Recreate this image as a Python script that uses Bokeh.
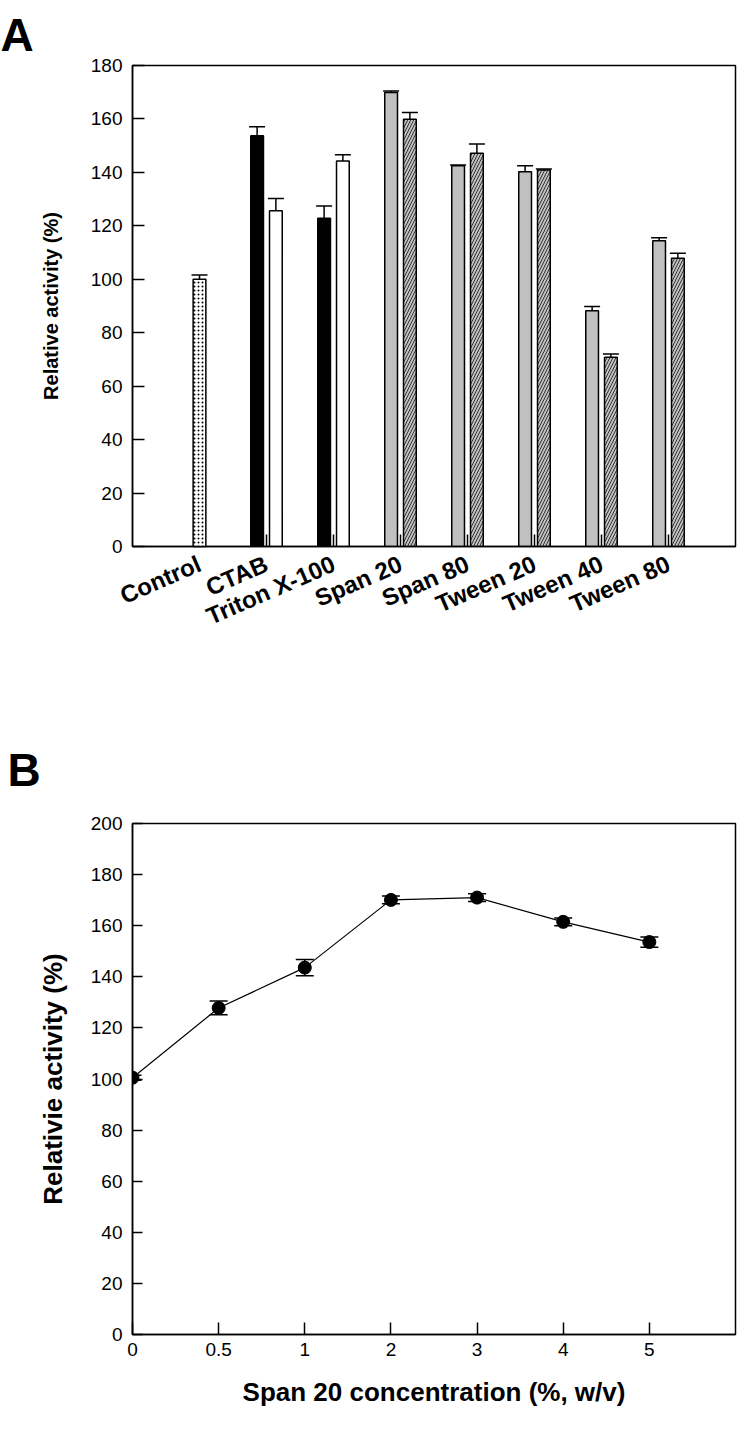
from bokeh.plotting import figure
from bokeh.models import FixedTicker, Range1d, Whisker, ColumnDataSource, TeeHead
from bokeh.layouts import column
from bokeh.embed import file_html
from bokeh.resources import INLINE

# ---------------- Panel A data ----------------
categories = ["Control", "CTAB", "Triton X-100", "Span 20", "Span 80",
              "Tween 20", "Tween 40", "Tween 80"]
control_value = [100.0]
control_err = [1.6]
first_values = [153.7, 122.8, 169.9, 142.5, 140.2, 88.2, 114.4]
first_err = [3.4, 4.6, 0.6, 0.3, 2.3, 1.6, 1.1]
second_values = [125.6, 144.3, 159.9, 147.2, 140.9, 70.8, 107.9]
second_err = [4.6, 2.3, 2.5, 3.4, 0.4, 1.2, 1.8]
a_yticks = [0, 20, 40, 60, 80, 100, 120, 140, 160, 180]

# ---------------- Panel B data ----------------
conc_labels = ["0", "0.5", "1", "2", "3", "4", "5"]
activity = [100.5, 127.8, 143.6, 170.1, 171.0, 161.5, 153.6]
activity_err = [1.0, 2.7, 3.2, 1.5, 1.5, 1.5, 2.0]
b_yticks = [0, 20, 40, 60, 80, 100, 120, 140, 160, 180, 200]

FONT = "Liberation Sans"


def style_title(p, text, left_border, standoff):
    p.title.text = text
    p.title.text_font = FONT
    p.title.text_font_style = "bold"
    p.title.text_font_size = "46px"
    p.title.text_color = "black"
    p.title.align = "left"
    p.title.offset = -left_border
    p.title.standoff = standoff


# ---------------- Panel A ----------------
pa = figure(width=742, height=690, output_backend="svg", toolbar_location=None,
            x_range=Range1d(0, len(categories) + 1), y_range=Range1d(0, 180),
            min_border_left=132, min_border_right=2, min_border_top=65,
            min_border_bottom=144)
pa.grid.visible = False
pa.outline_line_color = "black"
pa.outline_line_width = 1.5
style_title(pa, "A", 132, 10)

group_pos = list(range(1, len(categories) + 1))
pair_pos = group_pos[1:]
off = 0.14
bw = 0.19

ctrl_src = ColumnDataSource(dict(x=[group_pos[0]], top=control_value,
                                 upper=[v + e for v, e in zip(control_value, control_err)]))
ctrl = pa.vbar(x="x", top="top", bottom=0, width=bw, source=ctrl_src,
               fill_color="white", line_color="black", line_width=1.5,
               hatch_pattern="dot", hatch_scale=4, hatch_weight=1, hatch_color="black")
ctrl.level = "overlay"

n_ionic = 2
first_fill = ["black"] * n_ionic + ["#c0c0c0"] * (len(first_values) - n_ionic)
second_fill = ["white"] * n_ionic + ["#c0c0c0"] * (len(second_values) - n_ionic)
second_hatch = [" "] * n_ionic + ["/"] * (len(second_values) - n_ionic)

s1 = ColumnDataSource(dict(x=[g - off for g in pair_pos], top=first_values,
                           upper=[v + e for v, e in zip(first_values, first_err)],
                           fill=first_fill))
s2 = ColumnDataSource(dict(x=[g + off for g in pair_pos], top=second_values,
                           upper=[v + e for v, e in zip(second_values, second_err)],
                           fill=second_fill, hatch=second_hatch))
pa.vbar(x="x", top="top", bottom=0, width=bw, source=s1, fill_color="fill",
        line_color="black", line_width=1.5)
pa.vbar(x="x", top="top", bottom=0, width=bw, source=s2, fill_color="fill",
        line_color="black", line_width=1.5, hatch_pattern="hatch", hatch_scale=6,
        hatch_weight=0.9, hatch_color="#222222")

for src in (ctrl_src, s1, s2):
    w = Whisker(source=src, base="x", upper="upper", lower="top", dimension="height",
                upper_head=TeeHead(size=16, line_width=1.5, line_color="black"),
                lower_head=None, line_width=1.5, line_color="black")
    pa.add_layout(w)

pa.xaxis.ticker = FixedTicker(ticks=group_pos)
pa.xaxis.major_label_overrides = {g: c for g, c in zip(group_pos, categories)}
pa.xaxis.major_label_orientation = 0.41
pa.xaxis.major_tick_in = 12
pa.xaxis.major_tick_out = 0
pa.xaxis.minor_tick_line_color = None
pa.xaxis.major_label_text_font = FONT
pa.xaxis.major_label_text_font_style = "bold"
pa.xaxis.major_label_text_font_size = "24px"
pa.xaxis.major_label_text_color = "black"
pa.xaxis.major_label_standoff = 16

pa.yaxis.ticker = FixedTicker(ticks=a_yticks)
pa.yaxis.major_tick_in = 12
pa.yaxis.major_tick_out = 0
pa.yaxis.minor_tick_line_color = None
pa.yaxis.major_label_text_font = FONT
pa.yaxis.major_label_text_font_size = "19px"
pa.yaxis.major_label_text_color = "black"
pa.yaxis.major_label_standoff = 10
pa.yaxis.axis_label = "Relative activity (%)"
pa.yaxis.axis_label_text_font = FONT
pa.yaxis.axis_label_text_font_style = "bold"
pa.yaxis.axis_label_text_font_size = "20px"
pa.yaxis.axis_label_text_color = "black"
pa.yaxis.axis_label_standoff = 26
for ax in (pa.xaxis, pa.yaxis):
    ax.axis_line_width = 1.5
    ax.major_tick_line_width = 1.5
    ax.axis_line_color = "black"
    ax.major_tick_line_color = "black"

# ---------------- Panel B ----------------
pb = figure(width=742, height=724, output_backend="svg", toolbar_location=None,
            x_range=Range1d(0, len(conc_labels)), y_range=Range1d(0, 200),
            min_border_left=125, min_border_right=7, min_border_top=133,
            min_border_bottom=80)
pb.grid.visible = False
pb.outline_line_color = "black"
pb.outline_line_width = 1.5
style_title(pb, "B", 125, 56)

xi = list(range(len(conc_labels)))
bsrc = ColumnDataSource(dict(x=xi, y=activity,
                             lo=[v - e for v, e in zip(activity, activity_err)],
                             hi=[v + e for v, e in zip(activity, activity_err)]))
pb.line(x="x", y="y", source=bsrc, line_color="black", line_width=1.2)
pb.add_layout(Whisker(source=bsrc, base="x", upper="hi", lower="lo", dimension="height",
                      upper_head=TeeHead(size=18, line_width=1.5, line_color="black"),
                      lower_head=TeeHead(size=18, line_width=1.5, line_color="black"),
                      line_width=1.5, line_color="black"))
pb.scatter(x="x", y="y", source=bsrc, marker="circle", size=13,
           fill_color="black", line_color="black")

pb.xaxis.ticker = FixedTicker(ticks=xi)
pb.xaxis.major_label_overrides = {i: c for i, c in zip(xi, conc_labels)}
pb.xaxis.major_tick_in = 12
pb.xaxis.major_tick_out = 0
pb.xaxis.minor_tick_line_color = None
pb.xaxis.major_label_standoff = 8
pb.xaxis.axis_label = "Span 20 concentration (%, w/v)"
pb.xaxis.axis_label_standoff = 18

pb.yaxis.ticker = FixedTicker(ticks=b_yticks)
pb.yaxis.major_tick_in = 10
pb.yaxis.major_tick_out = 0
pb.yaxis.minor_tick_line_color = None
pb.yaxis.major_label_standoff = 10
pb.yaxis.axis_label = "Relativie activity (%)"
pb.yaxis.axis_label_standoff = 20
for ax in (pb.xaxis, pb.yaxis):
    ax.axis_line_width = 1.5
    ax.major_tick_line_width = 1.5
    ax.axis_line_color = "black"
    ax.major_tick_line_color = "black"
    ax.major_label_text_font = FONT
    ax.major_label_text_font_size = "19px"
    ax.major_label_text_color = "black"
    ax.axis_label_text_font = FONT
    ax.axis_label_text_font_style = "bold"
    ax.axis_label_text_font_size = "26px"
    ax.axis_label_text_color = "black"

layout = column(pa, pb, spacing=0)
open("out.html", "w").write(file_html(layout, INLINE))
